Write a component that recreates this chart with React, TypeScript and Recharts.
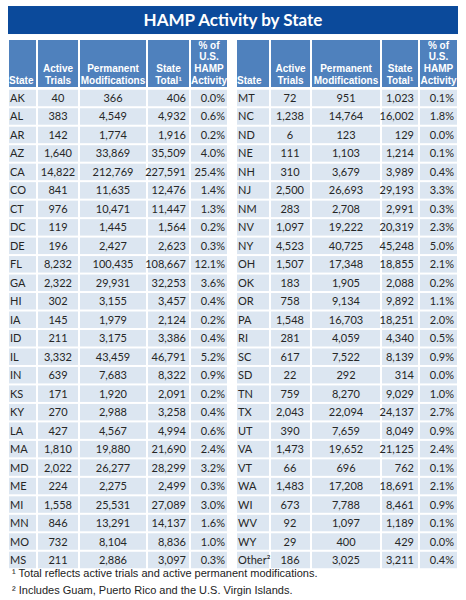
import React from 'react';
import { ScatterChart, Scatter, XAxis, YAxis } from 'recharts';

// ---- data ----
const leftStates = ['AK','AL','AR','AZ','CA','CO','CT','DC','DE','FL','GA','HI','IA','ID','IL','IN','KS','KY','LA','MA','MD','ME','MI','MN','MO','MS'];
const leftActive = [40,383,142,1640,14822,841,976,119,196,8232,2322,302,145,211,3332,639,171,270,427,1810,2022,224,1558,846,732,211];
const leftPerm = [366,4549,1774,33869,212769,11635,10471,1445,2427,100435,29931,3155,1979,3175,43459,7683,1920,2988,4567,19880,26277,2275,25531,13291,8104,2886];
const leftTotal = [406,4932,1916,35509,227591,12476,11447,1564,2623,108667,32253,3457,2124,3386,46791,8322,2091,3258,4994,21690,28299,2499,27089,14137,8836,3097];
const leftPct = [0.0,0.6,0.2,4.0,25.4,1.4,1.3,0.2,0.3,12.1,3.6,0.4,0.2,0.4,5.2,0.9,0.2,0.4,0.6,2.4,3.2,0.3,3.0,1.6,1.0,0.3];

const rightStates = ['MT','NC','ND','NE','NH','NJ','NM','NV','NY','OH','OK','OR','PA','RI','SC','SD','TN','TX','UT','VA','VT','WA','WI','WV','WY','Other²'];
const rightActive = [72,1238,6,111,310,2500,283,1097,4523,1507,183,758,1548,281,617,22,759,2043,390,1473,66,1483,673,92,29,186];
const rightPerm = [951,14764,123,1103,3679,26693,2708,19222,40725,17348,1905,9134,16703,4059,7522,292,8270,22094,7659,19652,696,17208,7788,1097,400,3025];
const rightTotal = [1023,16002,129,1214,3989,29193,2991,20319,45248,18855,2088,9892,18251,4340,8139,314,9029,24137,8049,21125,762,18691,8461,1189,429,3211];
const rightPct = [0.1,1.8,0.0,0.1,0.4,3.3,0.3,2.3,5.0,2.1,0.2,1.1,2.0,0.5,0.9,0.0,1.0,2.7,0.9,2.4,0.1,2.1,0.9,0.1,0.0,0.4];

const headers = [['State'], ['Active', 'Trials'], ['Permanent', 'Modifications'], ['State', 'Total¹'], ['% of', 'U.S.', 'HAMP', 'Activity']];
const title = 'HAMP Activity by State';
const notes = ['¹ Total reflects active trials and active permanent modifications.', '² Includes Guam, Puerto Rico and the U.S. Virgin Islands.'];

// ---- layout ----
const W = 466, H = 600;
const ROW = 18.48;
const Y_MIN = -98 / ROW, Y_MAX = (H - 98) / ROW;
const HEADER_ROW = -1.84, TITLE_ROW = -4.22, NOTE_ROWS = [25.7, 26.62];
// [x0, x1, align, anchorX]
const COLS: [number, number, string, number][][] = [
  [[8, 37, 'start', 10], [37, 79, 'middle', 58], [79, 147, 'middle', 113], [147, 190, 'end', 186], [190, 228, 'end', 225]],
  [[236, 270, 'start', 238], [270, 311, 'middle', 290], [311, 381, 'middle', 346], [381, 419, 'end', 414], [419, 458, 'end', 454]],
];
const BODY_FONT = 'Lato, "Open Sans", sans-serif';
const HEAD_FONT = '"Liberation Sans", Arial, sans-serif';

const fmt = (n: number) => n.toLocaleString('en-US');
const tables = [
  [leftStates, leftActive, leftPerm, leftTotal, leftPct],
  [rightStates, rightActive, rightPerm, rightTotal, rightPct],
] as const;

const bodyPoints: any[] = [];
const headPoints: any[] = [];
tables.forEach((t, ti) => {
  COLS[ti].forEach((col, ci) => {
    headPoints.push({ x: (col[0] + col[1]) / 2, y: HEADER_ROW, ti, ci, lines: headers[ci] });
    (t[0] as string[]).forEach((_, r) => {
      const v = (t[ci] as any[])[r];
      const text = ci === 0 ? v : ci === 4 ? `${v.toFixed(1)}%` : fmt(v);
      bodyPoints.push({ x: (col[0] + col[1]) / 2, y: r, ti, ci, text });
    });
  });
});
const titlePoints = [{ x: W / 2, y: TITLE_ROW }];
const notePoints = notes.map((n, i) => ({ x: 12, y: NOTE_ROWS[i], text: n }));

const BodyCell = (p: any) => {
  const { cy, payload } = p;
  const [x0, x1, align, ax] = COLS[payload.ti][payload.ci];
  return (
    <g>
      <rect x={x0 + 1} y={cy - ROW / 2 + 1} width={x1 - x0 - 2} height={ROW - 2} fill="#DCE6F1" />
      <text x={ax} y={cy + 4} textAnchor={align} fontFamily={BODY_FONT} fontSize={11} fill="#262626">{payload.text}</text>
    </g>
  );
};

const HeadCell = (p: any) => {
  const { payload } = p;
  const [x0, x1, , ax] = COLS[payload.ti][payload.ci];
  const top = 40, bottom = 88;
  const lines: string[] = payload.lines;
  const anchor = payload.ci === 0 ? 'start' : 'middle';
  const tx = payload.ci === 0 ? ax - 1 : (x0 + x1) / 2;
  return (
    <g>
      <rect x={x0 + 1} y={top} width={x1 - x0 - 2} height={bottom - top - 1} fill="#4F81BD" />
      {lines.map((l, i) => (
        <text key={i} x={tx} y={bottom - 4 - (lines.length - 1 - i) * 11.8} textAnchor={anchor}
          fontFamily={HEAD_FONT} fontWeight="bold" fontSize={10} fill="#fff">{l}</text>
      ))}
    </g>
  );
};

const TitleShape = (p: any) => (
  <g>
    <rect x={8} y={p.cy - 14} width={450} height={28} fill="#0B4A9B" />
    <text x={p.cx} y={p.cy + 6} textAnchor="middle" fontFamily={BODY_FONT} fontWeight="bold" fontSize={17} fill="#fff">{title}</text>
  </g>
);

const NoteShape = (p: any) => (
  <text x={p.cx} y={p.cy + 4} fontFamily={HEAD_FONT} fontSize={11} fill="#222">{p.payload.text}</text>
);

export default function App() {
  if (typeof document !== 'undefined') document.body.style.margin = '0';
  return (
    <div style={{ width: W, height: H, background: '#fff' }}>
      <ScatterChart width={W} height={H} margin={{ top: 0, right: 0, bottom: 0, left: 0 }}>
        <XAxis type="number" dataKey="x" domain={[0, W]} hide />
        <YAxis type="number" dataKey="y" domain={[Y_MIN, Y_MAX]} reversed hide />
        <Scatter data={titlePoints} shape={TitleShape} isAnimationActive={false} />
        <Scatter data={headPoints} shape={HeadCell} isAnimationActive={false} />
        <Scatter data={bodyPoints} shape={BodyCell} isAnimationActive={false} />
        <Scatter data={notePoints} shape={NoteShape} isAnimationActive={false} />
      </ScatterChart>
    </div>
  );
}
